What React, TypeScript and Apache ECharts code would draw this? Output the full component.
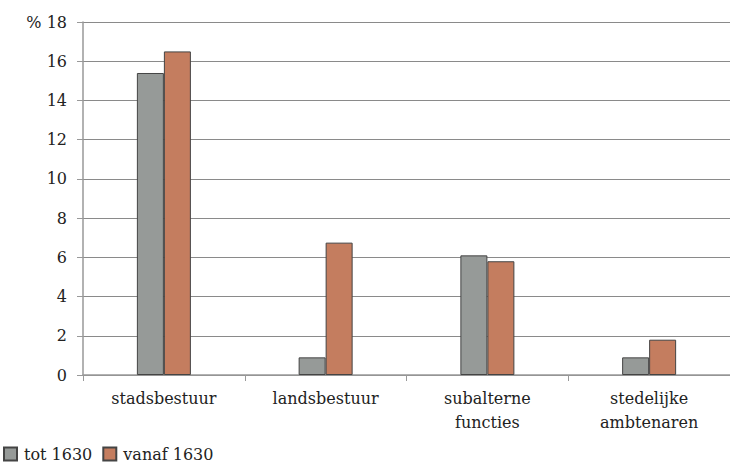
import React, { useEffect, useRef } from "react";
import * as echarts from "echarts";

const categories = ["stadsbestuur", "landsbestuur", "subalterne\nfuncties", "stedelijke\nambtenaren"];
const seriesNames = ["tot 1630", "vanaf 1630"];
const tot1630 = [15.4, 0.9, 6.1, 0.9];
const vanaf1630 = [16.5, 6.75, 5.8, 1.8];
const yTicks = [0, 2, 4, 6, 8, 10, 12, 14, 16, 18];

const FONT = "DejaVu Serif";

export default function App() {
  const ref = useRef<HTMLDivElement>(null);
  useEffect(() => {
    const chart = echarts.init(ref.current!, null, { renderer: "svg" });
    chart.setOption({
      animation: false,
      backgroundColor: "#ffffff",
      textStyle: { fontFamily: FONT },
      grid: { left: 83, top: 22, width: 654, height: 353, containLabel: false },
      legend: {
        left: 3,
        top: 446,
        itemWidth: 13,
        itemHeight: 13,
        itemGap: 10,
        padding: 0,
        icon: "rect",
        textStyle: { fontFamily: FONT, fontSize: 16, color: "#222", padding: [0, 0, 0, 2] },
        data: seriesNames,
      },
      xAxis: {
        type: "category",
        data: categories,
        axisLine: { show: true, lineStyle: { color: "#999", width: 1.5 } },
        axisTick: { show: true, length: 6, lineStyle: { color: "#999" } },
        axisLabel: { fontFamily: FONT, fontSize: 16, color: "#222", margin: 11, lineHeight: 24 },
      },
      yAxis: {
        type: "value",
        min: 0,
        max: 18,
        interval: 2,
        axisLine: { show: true, lineStyle: { color: "#999", width: 1.5 } },
        axisTick: { show: true, length: 6, lineStyle: { color: "#999" } },
        splitLine: { show: true, lineStyle: { color: "#8a8a8a", width: 1 } },
        axisLabel: {
          fontFamily: FONT,
          fontSize: 16,
          color: "#222",
          margin: 16,
          formatter: (v: number) => (v === yTicks[yTicks.length - 1] ? "% " + v : String(v)),
        },
      },
      series: [
        {
          name: seriesNames[0],
          type: "bar",
          data: tot1630,
          barWidth: 27,
          barGap: "0%",
          itemStyle: { color: "#969a98", borderColor: "#444", borderWidth: 1 },
        },
        {
          name: seriesNames[1],
          type: "bar",
          data: vanaf1630,
          barWidth: 27,
          barGap: "0%",
          itemStyle: { color: "#c47d5f", borderColor: "#444", borderWidth: 1 },
        },
      ],
    });
    return () => chart.dispose();
  }, []);
  return <div ref={ref} style={{ width: 730, height: 468, position: "absolute", left: 0, top: 0 }} />;
}
